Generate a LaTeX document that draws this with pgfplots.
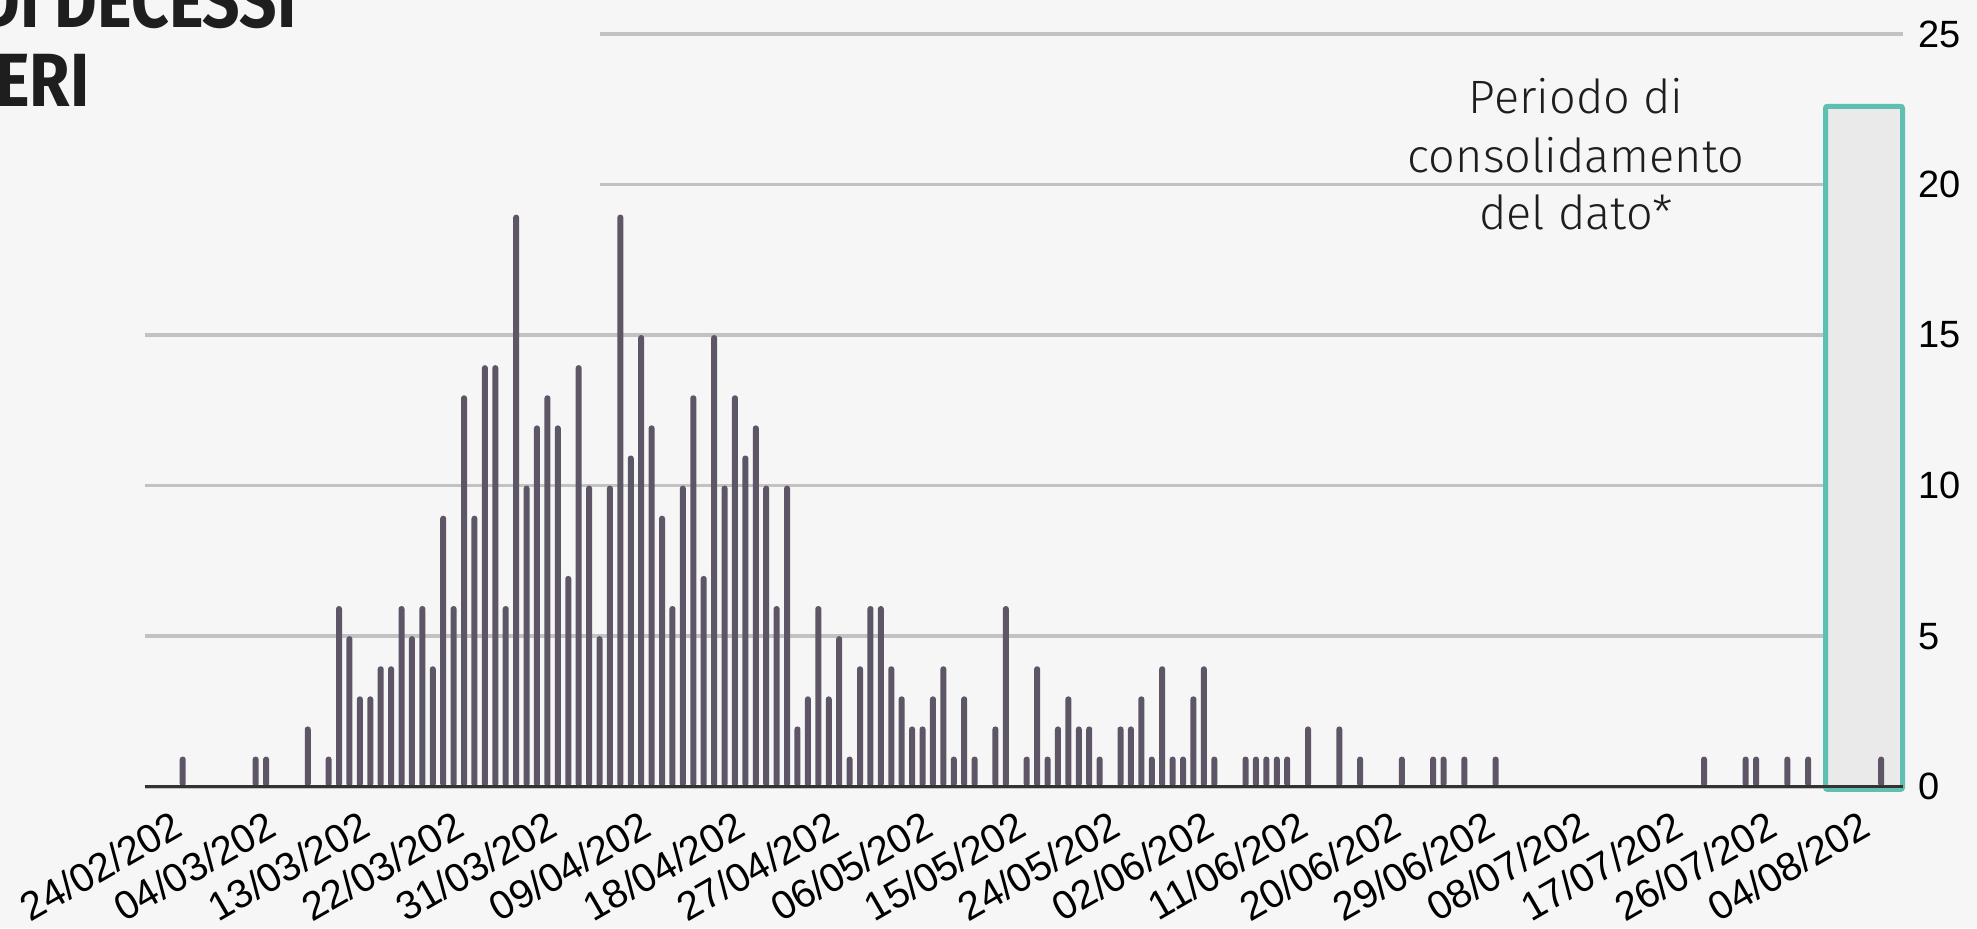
\documentclass[border=0pt]{standalone}
\usepackage{fontspec}
\setmainfont{Liberation Sans}
\newfontfamily\titlefont{Fira Sans}
\newfontfamily\notefont{Fira Sans Light}
\usepackage{graphicx}
\usepackage{pgfplots}
\pgfplotsset{compat=1.18}

\definecolor{bg}{HTML}{F6F6F6}
\definecolor{barcol}{HTML}{5E5667}
\definecolor{gridcol}{HTML}{C2C2C2}
\definecolor{boxfill}{HTML}{EAEAEA}
\definecolor{boxline}{HTML}{5FBFB1}
\definecolor{basecol}{HTML}{333333}
\definecolor{ink}{HTML}{1E1E1E}

% day 0 = 24/02, one unit per day
\begin{document}
\begin{tikzpicture}
\path[use as bounding box, clip] (0,0) rectangle (988.5pt,464pt);
\fill[bg] (0,0) rectangle (988.5pt,464pt);
\begin{axis}[
  at={(72.5pt,70.65pt)}, anchor=south west,
  width=878.75pt, height=376.35pt, scale only axis,
  xmin=-3.62, xmax=165.05, ymin=0, ymax=25,
  clip=false,
  axis line style={draw=none},
  tick style={draw=none},
  major tick length=0pt,
  ymajorgrids, grid style={gridcol, line width=1.8pt},
  ytick={0,5,...,25},
  yticklabel pos=right,
  xtick={0,9,...,162},
  xticklabels={24/02/202,04/03/202,13/03/202,22/03/202,31/03/202,09/04/202,
    18/04/202,27/04/202,06/05/202,15/05/202,24/05/202,02/06/202,11/06/202,
    20/06/202,29/06/202,08/07/202,17/07/202,26/07/202,04/08/202},
  tick label style={text=black},
  yticklabel style={font=\fontsize{19pt}{19pt}\selectfont, anchor=west, inner sep=0pt, xshift=7.75pt},
  /pgf/number format/assume math mode=true,
  xticklabel style={font=\fontsize{20pt}{20pt}\selectfont, xshift=-6pt, yshift=-10.8pt, rotate=30, anchor=north east, inner sep=0pt},
]
% the title area hides the two upper grid lines on the left
\fill[bg] (axis cs:-4,19.55) rectangle (axis cs:40.05,26);
% consolidation period
\draw[boxline, fill=boxfill, line width=2.5pt, rounded corners=1pt]
  (axis cs:157.66,-0.09) rectangle (axis cs:165.05,22.6);

\addplot[ybar, bar width=3pt, bar shift=0pt, fill=barcol, draw=none, rounded corners=1.4pt] coordinates {
  (0,1) (7,1) (8,1) (12,2) (14,1) (15,6) (16,5) (17,3) (18,3) (19,4)
  (20,4) (21,6) (22,5) (23,6) (24,4) (25,9) (26,6) (27,13) (28,9) (29,14)
  (30,14) (31,6) (32,19) (33,10) (34,12) (35,13) (36,12) (37,7) (38,14) (39,10)
  (40,5) (41,10) (42,19) (43,11) (44,15) (45,12) (46,9) (47,6) (48,10) (49,13)
  (50,7) (51,15) (52,10) (53,13) (54,11) (55,12) (56,10) (57,6) (58,10) (59,2)
  (60,3) (61,6) (62,3) (63,5) (64,1) (65,4) (66,6) (67,6) (68,4) (69,3)
  (70,2) (71,2) (72,3) (73,4) (74,1) (75,3) (76,1) (78,2) (79,6)
  (81,1) (82,4) (83,1) (84,2) (85,3) (86,2) (87,2) (88,1)
  (90,2) (91,2) (92,3) (93,1) (94,4) (95,1) (96,1) (97,3) (98,4) (99,1)
  (102,1) (103,1) (104,1) (105,1) (106,1) (108,2) (111,2) (113,1) (117,1)
  (120,1) (121,1) (123,1) (126,1) (146,1) (150,1) (151,1) (154,1) (156,1) (163,1)
};
\draw[basecol, line width=1.6pt] (axis cs:-3.62,0) -- (axis cs:165.05,0);
\end{axis}

\node[anchor=base east, inner sep=0pt, text=ink, font=\titlefont\bfseries\fontsize{37.7pt}{37.7pt}\selectfont]
  at (148.4pt,450pt) {\scalebox{0.87}[1]{ANDAMENTO DI DECESSI}};
\node[anchor=base east, inner sep=0pt, text=ink, font=\titlefont\bfseries\fontsize{37.7pt}{37.7pt}\selectfont]
  at (45pt,410.6pt) {\scalebox{0.87}[1]{STRANIERI}};

\node[anchor=base, inner sep=0pt, text=ink, font=\notefont\fontsize{23.4pt}{28pt}\selectfont]
  at (788pt,407.25pt) {Periodo di};
\node[anchor=base, inner sep=0pt, text=ink, font=\notefont\fontsize{23.4pt}{28pt}\selectfont]
  at (788pt,377.6pt) {consolidamento};
\node[anchor=base, inner sep=0pt, text=ink, font=\notefont\fontsize{23.4pt}{28pt}\selectfont]
  at (788pt,349.25pt) {del dato*};
\end{tikzpicture}
\end{document}
